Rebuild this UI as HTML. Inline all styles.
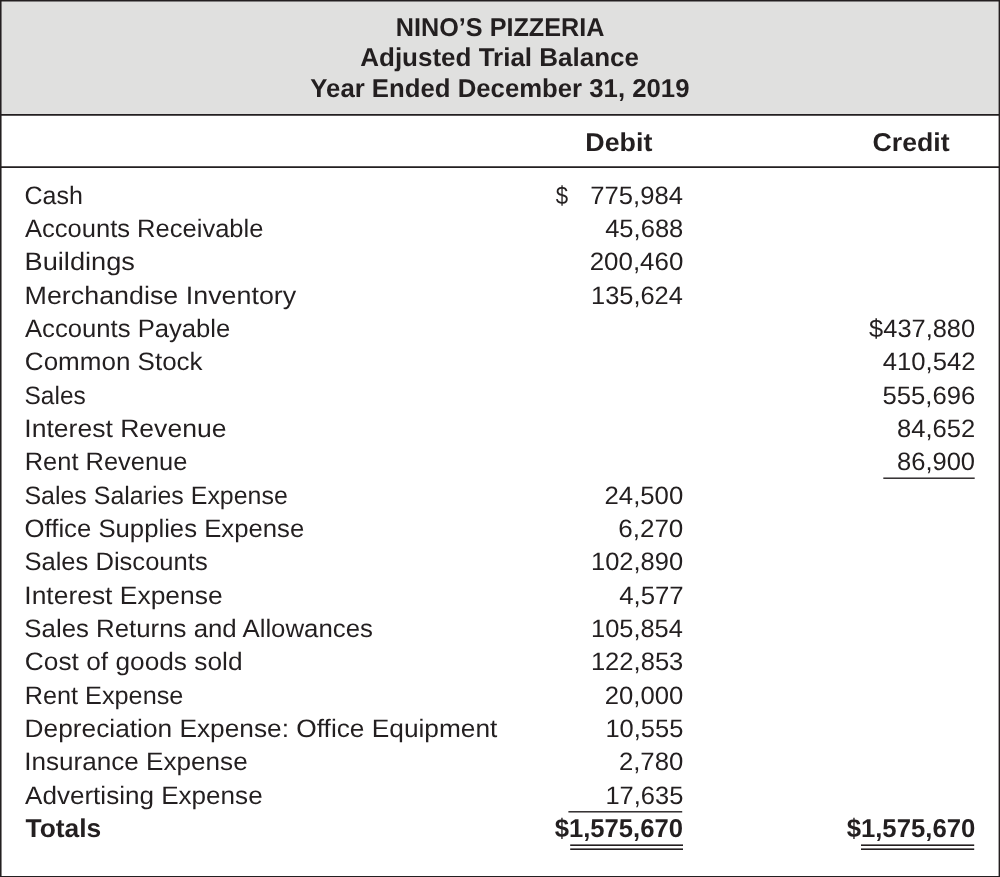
<!DOCTYPE html>
<html lang="en"><head><meta charset="utf-8"><title>Nino’s Pizzeria – Adjusted Trial Balance</title>
<style>
html,body{margin:0;padding:0;background:#fff}
#pg{position:relative;width:1000px;height:877px;overflow:hidden;background:#fff;font-family:"Liberation Sans",sans-serif;color:#231f20}
.t{position:absolute;font-size:25.2px;line-height:30px;white-space:nowrap;transform-origin:0 0;text-rendering:geometricPrecision}
.b{font-weight:700;font-size:25.8px}
#ln{position:absolute;left:0;top:0}
#hd{position:absolute;left:0;top:0;width:1000px;height:114.5px;background:#e0e0df}
</style></head>
<body><div id="pg"><div id="hd"></div>
<svg id="ln" width="1000" height="877" viewBox="0 0 1000 877" fill="#231f20"><rect x="0" y="0" width="1000" height="1.5"/><rect x="0" y="876.0" width="1000" height="1.0"/><rect x="0" y="0" width="1.55" height="877"/><rect x="998.6" y="0" width="1.4" height="877"/><rect x="0" y="114" width="1000" height="1.75"/><rect x="0" y="166.25" width="1000" height="1.75"/><rect x="883.3" y="477.5" width="91.4" height="1.4"/><rect x="568.4" y="811.1" width="113.8" height="1.4"/><rect x="570.2" y="844.4" width="112.8" height="1.6"/><rect x="570.2" y="848.4" width="112.8" height="1.6"/><rect x="861" y="844.4" width="113.2" height="1.6"/><rect x="861" y="848.4" width="113.2" height="1.6"/></svg>
<div class="t" style="left:24px;top:181px;transform:translateX(0.56px) scaleX(0.9926)">Cash</div>
<div class="t" style="left:25px;top:214px;transform:translateX(0.00px) scaleX(1.0137)">Accounts Receivable</div>
<div class="t" style="left:24px;top:247px;transform:translateX(0.54px) scaleX(1.0798)">Buildings</div>
<div class="t" style="left:24px;top:281px;transform:translateX(0.57px) scaleX(1.0661)">Merchandise Inventory</div>
<div class="t" style="left:25px;top:314px;transform:translateX(0.00px) scaleX(1.0184)">Accounts Payable</div>
<div class="t" style="left:24px;top:347px;transform:translateX(0.87px) scaleX(1.0323)">Common Stock</div>
<div class="t" style="left:24px;top:381px;transform:translateX(0.50px) scaleX(0.9718)">Sales</div>
<div class="t" style="left:24px;top:414px;transform:translateX(0.32px) scaleX(1.0536)">Interest Revenue</div>
<div class="t" style="left:24px;top:447px;transform:translateX(0.68px) scaleX(1.0106)">Rent Revenue</div>
<div class="t" style="left:24px;top:481px;transform:translateX(0.46px) scaleX(0.9899)">Sales Salaries Expense</div>
<div class="t" style="left:24px;top:514px;transform:translateX(0.56px) scaleX(1.0208)">Office Supplies Expense</div>
<div class="t" style="left:24px;top:547px;transform:translateX(0.38px) scaleX(1.0150)">Sales Discounts</div>
<div class="t" style="left:24px;top:581px;transform:translateX(0.33px) scaleX(1.0492)">Interest Expense</div>
<div class="t" style="left:24px;top:614px;transform:translateX(0.37px) scaleX(1.0246)">Sales Returns and Allowances</div>
<div class="t" style="left:24px;top:647px;transform:translateX(0.86px) scaleX(1.0432)">Cost of goods sold</div>
<div class="t" style="left:24px;top:681px;transform:translateX(0.69px) scaleX(1.0031)">Rent Expense</div>
<div class="t" style="left:24px;top:714px;transform:translateX(0.61px) scaleX(1.0433)">Depreciation Expense: Office Equipment</div>
<div class="t" style="left:24px;top:747px;transform:translateX(0.19px) scaleX(1.0363)">Insurance Expense</div>
<div class="t" style="left:25px;top:781px;transform:translateX(0.00px) scaleX(1.0350)">Advertising Expense</div>
<div class="t b" style="left:25px;top:814px;transform:translateX(0.50px) scaleX(1.0233)">Totals</div>
<div class="t" style="left:590px;top:181px;transform:translateX(0.28px) scaleX(1.0173)">775,984</div>
<div class="t" style="left:605px;top:214px;transform:translateX(0.16px) scaleX(1.0147)">45,688</div>
<div class="t" style="left:589px;top:247px;transform:translateX(0.69px) scaleX(1.0284)">200,460</div>
<div class="t" style="left:591px;top:281px;transform:translateX(0.02px) scaleX(1.0089)">135,624</div>
<div class="t" style="left:604px;top:481px;transform:translateX(0.53px) scaleX(1.0212)">24,500</div>
<div class="t" style="left:618px;top:514px;transform:translateX(0.19px) scaleX(1.0336)">6,270</div>
<div class="t" style="left:591px;top:547px;transform:translateX(0.02px) scaleX(1.0115)">102,890</div>
<div class="t" style="left:619px;top:581px;transform:translateX(0.16px) scaleX(1.0230)">4,577</div>
<div class="t" style="left:591px;top:614px;transform:translateX(0.02px) scaleX(1.0089)">105,854</div>
<div class="t" style="left:590px;top:647px;transform:translateX(0.89px) scaleX(1.0152)">122,853</div>
<div class="t" style="left:604px;top:681px;transform:translateX(0.78px) scaleX(1.0179)">20,000</div>
<div class="t" style="left:605px;top:714px;transform:translateX(0.46px) scaleX(1.0106)">10,555</div>
<div class="t" style="left:618px;top:747px;transform:translateX(0.89px) scaleX(1.0211)">2,780</div>
<div class="t" style="left:605px;top:781px;transform:translateX(0.46px) scaleX(1.0106)">17,635</div>
<div class="t" style="left:555px;top:181px;transform:translateX(0.76px) scaleX(0.8821)">$</div>
<div class="t b" style="left:554px;top:814px;transform:translateX(0.63px) scaleX(0.9943)">$1,575,670</div>
<div class="t" style="left:869px;top:314px;transform:translateX(0.12px) scaleX(1.0091)">$437,880</div>
<div class="t" style="left:882px;top:347px;transform:translateX(0.82px) scaleX(1.0185)">410,542</div>
<div class="t" style="left:882px;top:381px;transform:translateX(0.47px) scaleX(1.0188)">555,696</div>
<div class="t" style="left:896px;top:414px;transform:translateX(0.98px) scaleX(1.0156)">84,652</div>
<div class="t" style="left:896px;top:447px;transform:translateX(0.99px) scaleX(1.0133)">86,900</div>
<div class="t b" style="left:846px;top:814px;transform:translateX(0.63px) scaleX(0.9967)">$1,575,670</div>
<div class="t b" style="left:395px;top:13px;transform:translateX(0.87px) scaleX(0.9764)">NINO’S PIZZERIA</div>
<div class="t b" style="left:360px;top:43px;transform:translateX(0.25px) scaleX(1.0074)">Adjusted Trial Balance</div>
<div class="t b" style="left:310px;top:74px;transform:translateX(0.33px) scaleX(0.9977)">Year Ended December 31, 2019</div>
<div class="t b" style="left:585px;top:128px;transform:translateX(0.29px) scaleX(1.0393)">Debit</div>
<div class="t b" style="left:872px;top:128px;transform:translateX(0.57px) scaleX(1.0340)">Credit</div>
</div></body></html>
